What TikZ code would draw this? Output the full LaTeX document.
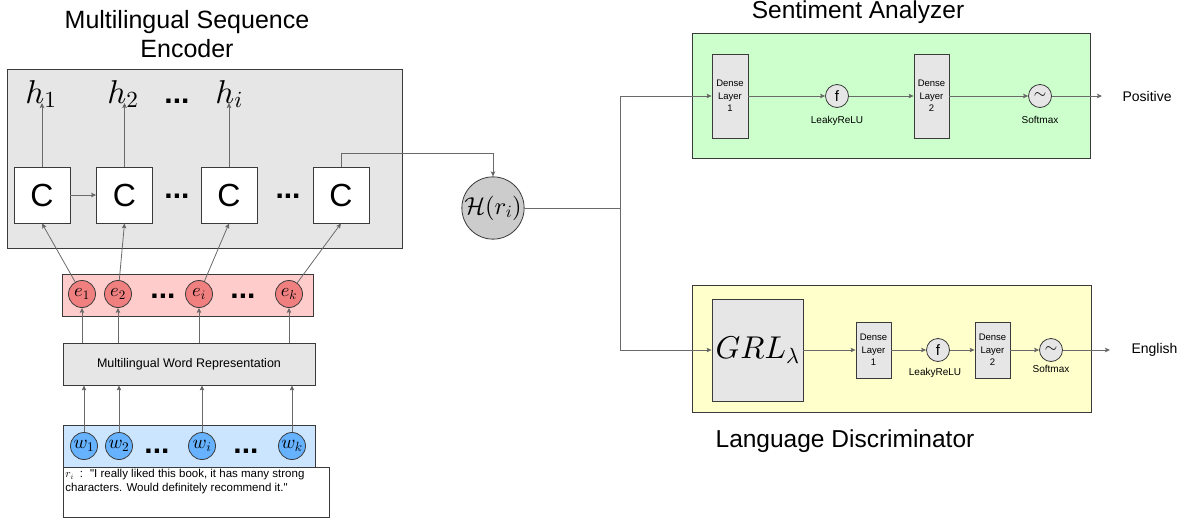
\documentclass[tikz,border=0pt]{standalone}
\usepackage[no-math]{fontspec}
\setmainfont{Liberation Sans}
\DeclareFontFamily{OML}{cmm}{\skewchar\font'177}
\DeclareFontShape{OML}{cmm}{m}{it}{<-> cmmi10}{}
\DeclareFontFamily{OMS}{cmsy}{\skewchar\font'60}
\DeclareFontShape{OMS}{cmsy}{m}{n}{<-> cmsy10}{}
\DeclareFontFamily{OT1}{cmr}{\hyphenchar\font45}
\DeclareFontShape{OT1}{cmr}{m}{n}{<-> cmr10}{}
\usetikzlibrary{arrows.meta,calc}
\newcommand{\myfs}[1]{\fontsize{#1}{#1}\selectfont}
\definecolor{encgray}{HTML}{E6E6E6}
\definecolor{hgray}{HTML}{CCCCCC}
\definecolor{sgreen}{HTML}{CCFFCC}
\definecolor{lyellow}{HTML}{FFFFCC}
\definecolor{epink}{HTML}{FFCCCC}
\definecolor{ered}{HTML}{F08080}
\definecolor{wblue}{HTML}{CCE5FF}
\definecolor{wcircc}{HTML}{66B2FF}
\definecolor{lc}{HTML}{6A6A6A}
\definecolor{bc}{HTML}{3A3A3A}
\begin{document}
\begin{tikzpicture}[x=1pt,y=-1pt,
  box/.style={draw=bc,line width=0.8pt,inner sep=0pt},
  cell/.style={box,fill=white,minimum width=56pt,minimum height=56pt,font=\myfs{32}},
  ecirc/.style={circle,draw=bc,line width=0.8pt,fill=ered,minimum size=27pt,inner sep=0pt,font=\myfs{18.5}},
  wcirc/.style={circle,draw=bc,line width=0.8pt,fill=wcircc,minimum size=27pt,inner sep=0pt,font=\myfs{19}},
  fcirc/.style={circle,draw=bc,line width=0.8pt,fill=encgray,minimum size=23pt,inner sep=0pt,font=\myfs{15}},
  dense/.style={box,fill=encgray,align=center,font=\fontsize{9.5}{12.5}\selectfont},
  dots/.style={font=\bfseries\myfs{30},anchor=base,inner sep=0pt},
  lab/.style={font=\myfs{10},anchor=base,inner sep=0pt},
  hlab/.style={font=\myfs{33},anchor=base,inner sep=0pt},
  ln/.style={draw=lc,line width=0.8pt},
  arr/.style={draw=lc,line width=0.8pt,-{Stealth[length=5pt,width=4.5pt,inset=1pt,fill=bc]}}
]
\useasboundingbox (0,0) rectangle (1195,522);

% backgrounds
\node[box,fill=encgray,minimum width=395pt,minimum height=179pt] (enc) at (204.5,158.5) {};
\node[box,fill=sgreen,minimum width=398pt,minimum height=125pt] (sa) at (891,95.5) {};
\node[box,fill=lyellow,minimum width=399pt,minimum height=127pt] (ld) at (891.5,348.5) {};
\node[box,fill=epink,minimum width=251pt,minimum height=42pt] (erow) at (187.5,295) {};
\node[box,fill=encgray,minimum width=252pt,minimum height=42pt,font=\myfs{12.5}] (mwr) at (189,364) {Multilingual Word Representation};
\node[box,fill=wblue,minimum width=252pt,minimum height=42pt] (wrow) at (189,446) {};
\node[box,fill=white,anchor=north west,inner sep=2pt] (rtext) at (63,467)
  {\parbox[t][46pt][t]{262pt}{\raggedright\fontsize{11.5}{13.5}\selectfont $r_i$\hspace{6pt}:\hspace{7pt}\textquotedbl I really liked this book, it has many strong\\characters. Would definitely recommend it.\textquotedbl}};

% titles
\node[font=\fontsize{25}{29}\selectfont,align=center] (enct) at (187,34) {Multilingual Sequence\\Encoder};
\node[font=\myfs{24.5},anchor=base] (sat) at (858,19) {Sentiment Analyzer};
\node[font=\myfs{24.5},anchor=base] (ldt) at (845,447) {Language Discriminator};

% encoder cells
\node[cell] (c1) at (42,195) {C};
\node[cell] (c2) at (124.5,195) {C};
\node[cell] (c3) at (229,195) {C};
\node[cell] (c4) at (341,195) {C};
\node[hlab] (h1) at (41,103) {$h_1$};
\node[hlab] (h2) at (123,103) {$h_2$};
\node[hlab] (hi) at (229,103) {$h_i$};
\node[dots] (dh) at (177,103) {...};
\node[dots] (dc1) at (177,198) {...};
\node[dots] (dc2) at (288,198) {...};

% embeddings
\node[ecirc] (e1) at (82,294) {$e_1$};
\node[ecirc] (e2) at (118,294) {$e_2$};
\node[ecirc] (ei) at (199,294) {$e_i$};
\node[ecirc] (ek) at (289,294) {$e_k$};
\node[dots] (de1) at (163,298) {...};
\node[dots] (de2) at (243,298) {...};

% words
\node[wcirc] (w1) at (84,446) {$w_1$};
\node[wcirc] (w2) at (119,446) {$w_2$};
\node[wcirc] (wi) at (202,446) {$w_i$};
\node[wcirc] (wk) at (292,446) {$w_k$};
\node[dots] (dw1) at (157,453) {...};
\node[dots] (dw2) at (246,453) {...};

% hidden representation
\node[circle,draw=bc,line width=0.8pt,fill=hgray,minimum size=62pt,inner sep=0pt,font=\myfs{24.5}] (H) at (493,208) {$\mathcal{H}(r_i)$};

% sentiment analyzer
\node[dense,minimum width=36pt,minimum height=84pt] (sd1) at (730,96) {Dense\\Layer\\1};
\node[fcirc] (sf) at (837,96) {f};
\node[dense,minimum width=35pt,minimum height=84pt] (sd2) at (931.5,96) {Dense\\Layer\\2};
\node[fcirc,font=\myfs{16}] (ssm) at (1040,96) {$\sim$};
\node[lab] (sfl) at (837,123) {LeakyReLU};
\node[lab] (ssml) at (1040,123) {Softmax};
\coordinate (po) at (1102,96);
\node[font=\myfs{14},anchor=west] (pos) at (1119,96) {Positive};

% language discriminator
\node[box,fill=encgray,minimum width=91pt,minimum height=102pt,font=\myfs{31.5}] (grl) at (757.5,350) {$GRL_\lambda$};
\node[dense,minimum width=35pt,minimum height=56pt] (ld1) at (873.5,350) {Dense\\Layer\\1};
\node[fcirc] (lf) at (938,350) {f};
\node[dense,minimum width=35pt,minimum height=56pt] (ld2) at (992.5,350) {Dense\\Layer\\2};
\node[fcirc,font=\myfs{16}] (lsm) at (1051,350) {$\sim$};
\node[lab] (lfl) at (935,375) {LeakyReLU};
\node[lab] (lsml) at (1051,372) {Softmax};
\coordinate (eo) at (1110,350);
\node[font=\myfs{14},anchor=west] (eng) at (1128,350) {English};

% connectors: encoder
\draw[arr] (c1.north) -- (c1.north |- h1.base);
\draw[arr] (c2.north) -- (c2.north |- h2.base);
\draw[arr] (c3.north) -- (hi.base);
\draw[arr] (c1.east) -- (c2.west);
\coordinate (k) at (493,153);
\draw[arr] (c4.north) |- (k) -- (H.north);
\draw[arr] (e1) -- (c1.south);
\draw[arr] (e2) -- (c2.south);
\draw[arr] (ei) -- (c3.south);
\draw[arr] (ek) -- (c4.south);
\foreach \n in {e1,e2,ei,ek} \draw[arr] (\n |- mwr.north) -- (\n.south);
\foreach \n in {w1,w2,wi,wk} \draw[arr] (\n.north) -- (\n |- mwr.south);

% connectors: heads
\coordinate (J) at (620,208);
\draw[ln] (H.east) -- (J);
\draw[arr] (J) |- (sd1.west);
\draw[arr] (J) |- (grl.west);
\draw[arr] (sd1.east) -- (sf.west);
\draw[arr] (sf.east) -- (sd2.west);
\draw[arr] (sd2.east) -- (ssm.west);
\draw[arr] (ssm.east) -- (po);
\draw[arr] (grl.east) -- (ld1.west);
\draw[arr] (ld1.east) -- (lf.west);
\draw[arr] (lf.east) -- (ld2.west);
\draw[arr] (ld2.east) -- (lsm.west);
\draw[arr] (lsm.east) -- (eo);
\end{tikzpicture}
\end{document}
